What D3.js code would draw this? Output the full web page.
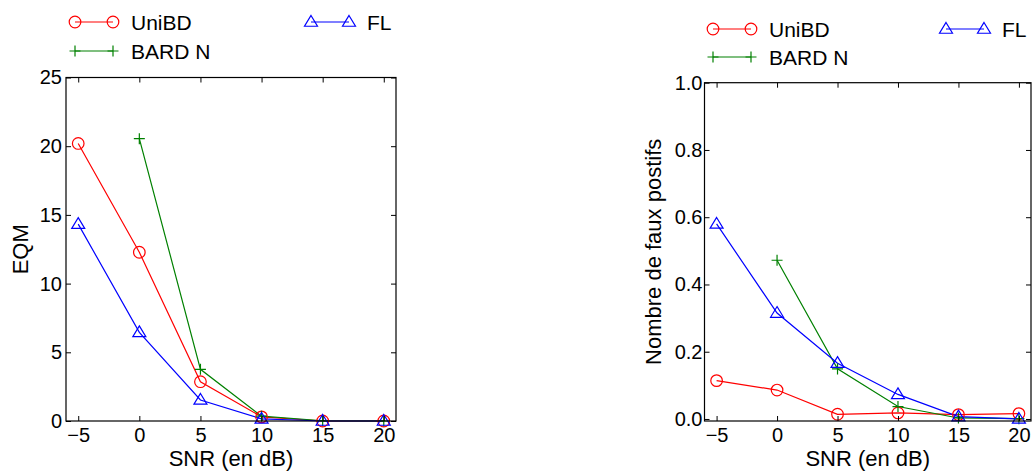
<!DOCTYPE html>
<html><head><meta charset="utf-8">
<script src="https://cdn.jsdelivr.net/npm/d3@7"></script>
<style>body{margin:0;background:#fff}svg{display:block;font-family:"Liberation Sans",Arial,sans-serif}</style>
</head><body><svg id="c" width="1034" height="473"></svg>
<script>
const snr = [-5, 0, 5, 10, 15, 20];
const xTicks = [-5, 0, 5, 10, 15, 20];
// Left panel: EQM
const eqmUniBD = [20.2, 12.28, 2.86, 0.3, 0.0, 0.0];
const eqmBARD = [null, 20.55, 3.76, 0.35, 0.02, 0.0];
const eqmFL = [14.33, 6.45, 1.53, 0.15, 0.0, 0.0];
const eqmTicks = [0, 5, 10, 15, 20, 25];
// Right panel: faux positifs
const fpUniBD = [0.114, 0.086, 0.014, 0.018, 0.013, 0.016];
const fpBARD = [null, 0.472, 0.149, 0.037, 0.003, 0.001];
const fpFL = [0.58, 0.315, 0.166, 0.073, 0.007, 0.0];
const fpTicks = [0.0, 0.2, 0.4, 0.6, 0.8, 1.0];

const seriesNames = ["UniBD", "BARD N", "FL"];
const colors = {"UniBD": "#ff0000", "BARD N": "#008000", "FL": "#0000ff"};
const markers = {"UniBD": "circle", "BARD N": "plus", "FL": "triangle"};

const svg = d3.select("#c");

function marker(g, type, x, y, color) {
  if (type === "circle") {
    g.append("circle").attr("cx", x).attr("cy", y).attr("r", 5.8)
      .attr("fill", "none").attr("stroke", color).attr("stroke-width", 1.2);
  } else if (type === "plus") {
    g.append("path").attr("d", `M${x-5.5},${y}H${x+5.5}M${x},${y-5.5}V${y+5.5}`)
      .attr("stroke", color).attr("stroke-width", 1.2).attr("fill", "none");
  } else {
    const s = 6.5;
    g.append("path").attr("d", `M${x},${y-s}L${x+s},${y+s*0.65}L${x-s},${y+s*0.65}Z`)
      .attr("fill", "none").attr("stroke", color).attr("stroke-width", 1.2);
  }
}

function panel(opts) {
  const {x0, x1, y0, y1, yDomain, yTicks, yFmt, data, ylabel, ylabelX, legend, yPad} = opts;
  const x = d3.scaleLinear().domain([-6, 21]).range([x0, x1]);
  const y = d3.scaleLinear().domain(yDomain).range([y1, y0]);
  const g = svg.append("g");

  seriesNames.forEach((name, i) => {
    const vals = data[i];
    const pts = snr.map((s, j) => [s, vals[j]]).filter(d => d[1] !== null);
    g.append("path").datum(pts)
      .attr("d", d3.line().x(d => x(d[0])).y(d => y(d[1])))
      .attr("fill", "none").attr("stroke", colors[name]).attr("stroke-width", 1.2);
  });
  seriesNames.forEach((name, i) => {
    const vals = data[i];
    snr.forEach((s, j) => { if (vals[j] !== null) marker(g, markers[name], x(s), y(vals[j]), colors[name]); });
  });

  g.append("rect").attr("x", x0).attr("y", y0).attr("width", x1 - x0).attr("height", y1 - y0)
    .attr("fill", "none").attr("stroke", "#000").attr("stroke-width", 1.2);

  const axB = g.append("g").attr("transform", `translate(0,${y1})`)
    .call(d3.axisBottom(x).tickValues(xTicks).tickSizeInner(-5).tickSizeOuter(0).tickPadding(7).tickFormat(d => d < 0 ? "\u2212" + Math.abs(d) : d));
  const axT = g.append("g").attr("transform", `translate(0,${y0})`)
    .call(d3.axisTop(x).tickValues(xTicks).tickSizeInner(-5).tickSizeOuter(0).tickFormat(""));
  const axL = g.append("g").attr("transform", `translate(${x0},0)`)
    .call(d3.axisLeft(y).tickValues(yTicks).tickSizeInner(-5).tickSizeOuter(0).tickPadding(yPad).tickFormat(yFmt));
  const axR = g.append("g").attr("transform", `translate(${x1},0)`)
    .call(d3.axisRight(y).tickValues(yTicks).tickSizeInner(-5).tickSizeOuter(0).tickFormat(""));
  [axB, axT, axL, axR].forEach(a => {
    a.select(".domain").remove();
    a.attr("font-size", 20).attr("font-family", "Liberation Sans, Arial, sans-serif");
    a.selectAll("line").attr("stroke", "#000").attr("stroke-width", 1);
    a.selectAll("text").attr("fill", "#000");
  });
  axB.selectAll("text").attr("dy", "0.71em");

  g.append("text").attr("x", (x0 + x1) / 2).attr("y", 466).attr("text-anchor", "middle")
    .attr("font-size", 22).text("SNR (en dB)");
  g.append("text").attr("transform", `translate(${ylabelX},${(y0 + y1) / 2}) rotate(-90)`)
    .attr("text-anchor", "middle").attr("font-size", 22).text(ylabel);

  const L = legend;
  const entries = [
    {name: "UniBD", lx: L.x1, ly: L.y1},
    {name: "BARD N", lx: L.x1, ly: L.y2},
    {name: "FL", lx: L.x2, ly: L.y1}
  ];
  entries.forEach(e => {
    const c = colors[e.name];
    g.append("line").attr("x1", e.lx).attr("x2", e.lx + 38).attr("y1", e.ly).attr("y2", e.ly)
      .attr("stroke", c).attr("stroke-width", 1.2);
    marker(g, markers[e.name], e.lx, e.ly, c);
    marker(g, markers[e.name], e.lx + 38, e.ly, c);
    g.append("text").attr("x", e.lx + 56).attr("y", e.ly).attr("dy", "0.36em").attr("font-size", 21).text(e.name);
  });
}

panel({x0: 66, x1: 396, y0: 77.5, y1: 421, yDomain: [0, 25], yTicks: eqmTicks,
  yFmt: d3.format("d"), data: [eqmUniBD, eqmBARD, eqmFL], ylabel: "EQM", ylabelX: 28,
  legend: {x1: 75, x2: 311, y1: 22, y2: 51}, yPad: 4});

panel({x0: 704.5, x1: 1031, y0: 82.7, y1: 421, yDomain: [-0.006, 1.0], yTicks: fpTicks,
  yFmt: d3.format(".1f"), data: [fpUniBD, fpBARD, fpFL], ylabel: "Nombre de faux postifs", ylabelX: 661,
  legend: {x1: 713, x2: 946, y1: 29, y2: 57}, yPad: 2});
</script></body></html>
